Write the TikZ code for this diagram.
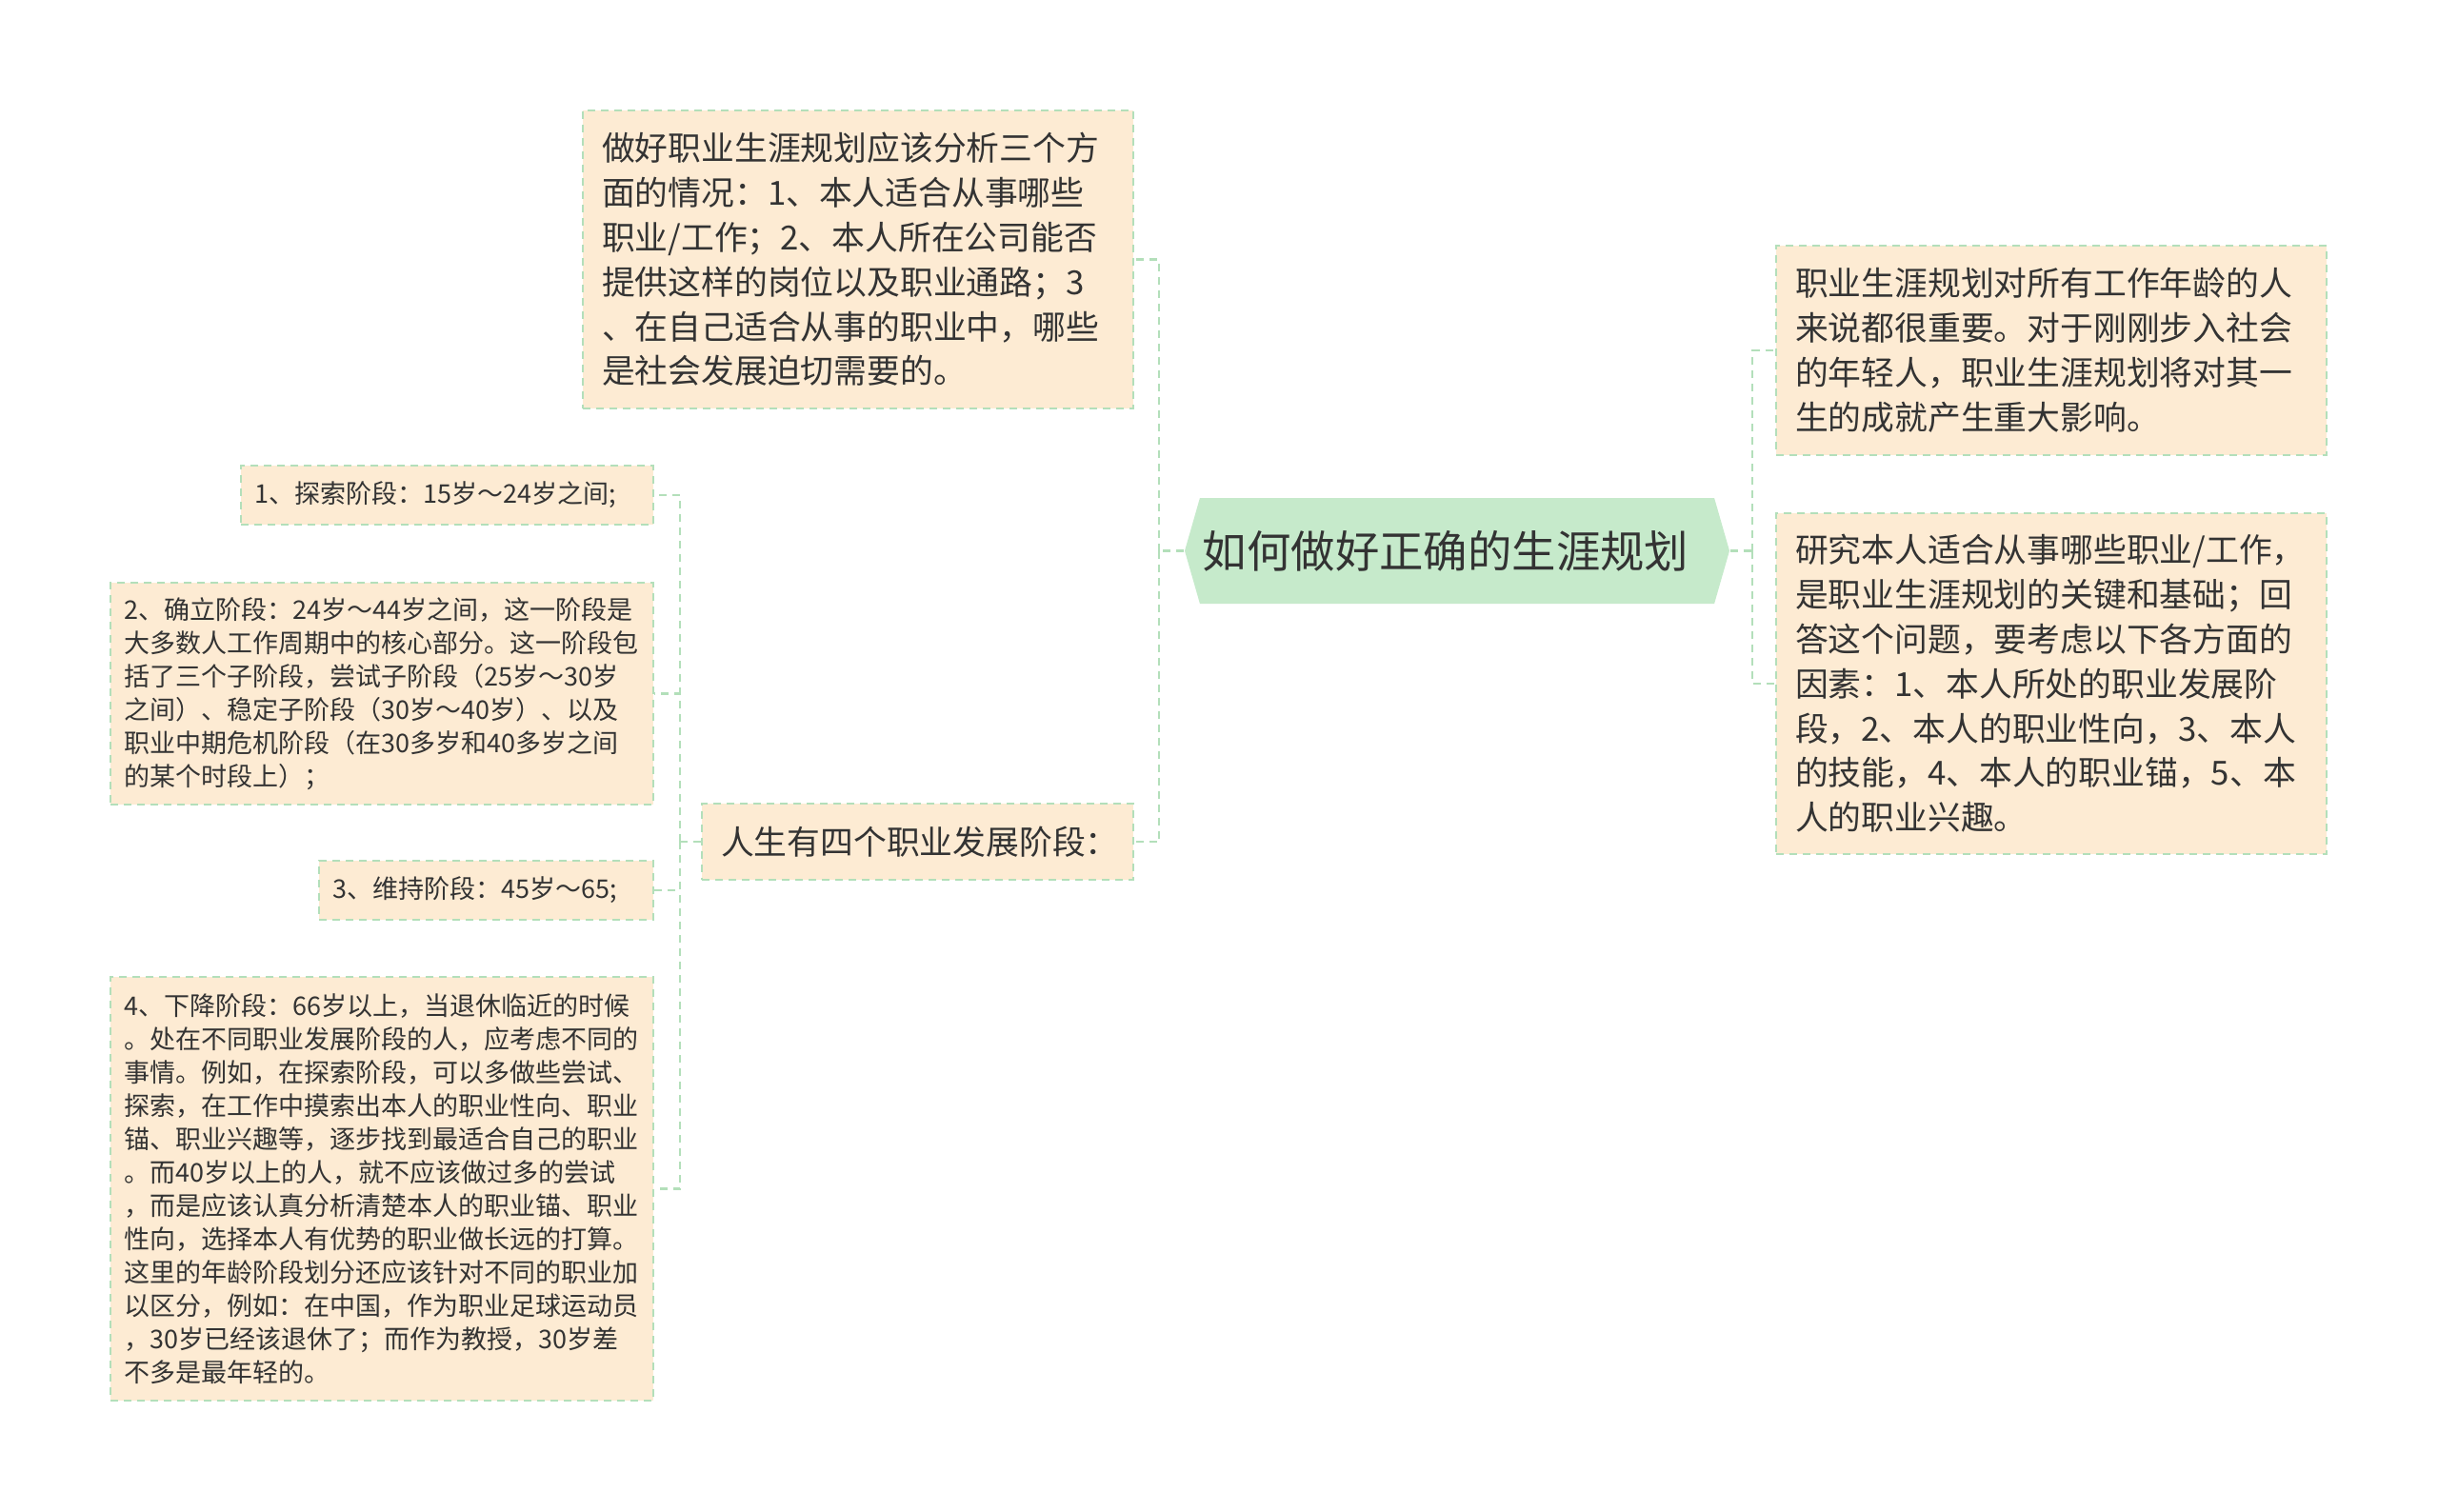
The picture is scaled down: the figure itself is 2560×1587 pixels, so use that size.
\documentclass[tikz,border=0pt]{standalone}
\usepackage{fontspec}
\setmainfont{Noto Sans CJK SC}
\usetikzlibrary{shapes.symbols}
\definecolor{peach}{HTML}{FDEBD3}
\definecolor{leaf}{HTML}{B3DFBA}
\definecolor{rootgreen}{HTML}{C6EACB}
\definecolor{ink}{HTML}{333333}

\begin{document}
\begin{tikzpicture}[x=0.25pt,y=-0.25pt,
  topic/.style={draw=leaf,line width=0.55pt,dash pattern=on 2pt off 1.5pt,fill=peach,text=ink,align=left,inner xsep=5pt,inner ysep=0pt,font=\fontsize{8.7pt}{11.7pt}\selectfont},
  stage/.style={topic,inner xsep=3.7pt,font=\fontsize{6.75pt}{8.75pt}\selectfont},
  link/.style={draw=leaf,line width=0.6pt,dash pattern=on 2pt off 1.5pt}]
  \useasboundingbox (0,0) rectangle (2560,1587);
  \node[signal,signal to=west and east,signal pointer angle=148,fill=rootgreen,text=ink,minimum width=143pt,minimum height=27.75pt,inner sep=0pt,font=\fontsize{11.6pt}{14pt}\selectfont] (root) at (1530,578.5) {\hspace*{-3pt}如何做好正确的生涯规划\hspace*{3pt}};
  \node[topic,text width=134.5pt,minimum height=78.25pt] (analyse) at (901,272.5) {做好职业生涯规划应该分析三个方\\面的情况：1、本人适合从事哪些\\职业/工作；2、本人所在公司能否\\提供这样的岗位以及职业通路；3\\、在自己适合从事的职业中，哪些\\是社会发展迫切需要的。};
  \node[topic,text width=103.25pt,minimum height=20pt] (phases) at (963.5,884) {人生有四个职业发展阶段：};
  \node[topic,text width=134.5pt,minimum height=55pt] (matter) at (2154,368) {职业生涯规划对所有工作年龄的人\\来说都很重要。对于刚刚步入社会\\的年轻人，职业生涯规划将对其一\\生的成就产生重大影响。};
  \node[topic,text width=134.5pt,minimum height=89.5pt] (study) at (2154,718) {研究本人适合从事哪些职业/工作，\\是职业生涯规划的关键和基础；回\\答这个问题，要考虑以下各方面的\\因素：1、本人所处的职业发展阶\\段，2、本人的职业性向，3、本人\\的技能，4、本人的职业锚，5、本\\人的职业兴趣。};
  \node[stage,text width=100.85pt,minimum height=15.5pt] (explore) at (469.5,520) {1、探索阶段：15岁～24岁之间;};
  \node[stage,text width=135.1pt,minimum height=58.25pt] (establish) at (401,728.5) {2、确立阶段：24岁～44岁之间，这一阶段是\\大多数人工作周期中的核心部分。这一阶段包\\括了三个子阶段，尝试子阶段（25岁～30岁\\之间）、稳定子阶段（30岁～40岁）、以及\\职业中期危机阶段（在30多岁和40多岁之间\\的某个时段上）；};
  \node[stage,text width=80.35pt,minimum height=15.5pt] (maintain) at (510.5,935) {3、维持阶段：45岁～65;};
  \node[stage,text width=135.1pt,minimum height=111.25pt] (decline) at (401,1248.5) {4、下降阶段：66岁以上，当退休临近的时候\\。处在不同职业发展阶段的人，应考虑不同的\\事情。例如，在探索阶段，可以多做些尝试、\\探索，在工作中摸索出本人的职业性向、职业\\锚、职业兴趣等，逐步找到最适合自己的职业\\。而40岁以上的人，就不应该做过多的尝试\\，而是应该认真分析清楚本人的职业锚、职业\\性向，选择本人有优势的职业做长远的打算。\\这里的年龄阶段划分还应该针对不同的职业加\\以区分，例如：在中国，作为职业足球运动员\\，30岁已经该退休了；而作为教授，30岁差\\不多是最年轻的。};
  \coordinate (lj) at (1217,578.5);
  \coordinate (rj) at (1840,578.5);
  \coordinate (pj) at (714,884);
  \draw[link] (root.west) -- (lj);
  \draw[link] (lj) |- (analyse.east);
  \draw[link] (lj) |- (phases.east);
  \draw[link] (root.east) -- (rj);
  \draw[link] (rj) |- (matter.west);
  \draw[link] (rj) |- (study.west);
  \draw[link] (phases.west) -- (pj);
  \draw[link] (pj) |- (explore.east);
  \draw[link] (pj) |- (establish.east);
  \draw[link] (pj) |- (maintain.east);
  \draw[link] (pj) |- (decline.east);
\end{tikzpicture}
\end{document}
